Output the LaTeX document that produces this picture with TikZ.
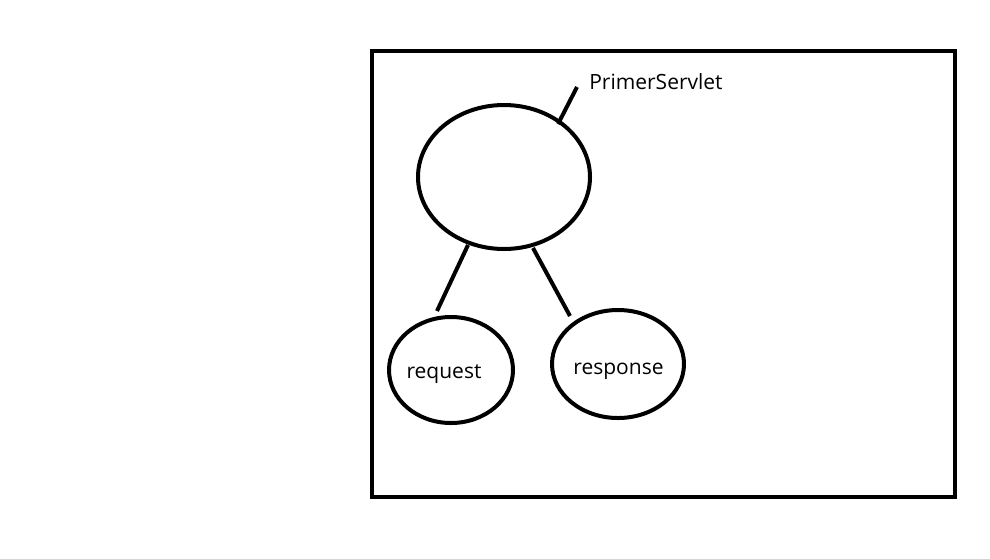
\documentclass[tikz,border=0pt]{standalone}
\usepackage{fontspec}
\setmainfont{Open Sans}
\begin{document}
\begin{tikzpicture}[x=1pt,y=-1pt,
  stroke/.style={draw=black,line width=4pt},
  lbl/.style={font=\fontsize{21}{24}\selectfont,inner sep=0pt,anchor=base}]
\useasboundingbox (0,0) rectangle (990,558);
\node[stroke,rectangle,minimum width=583,minimum height=446,inner sep=0pt] (frame) at (663.5,274) {};
\draw[stroke] (504,177) ellipse [x radius=86,y radius=72];
\node[minimum width=172,minimum height=144,inner sep=0pt] (servlet) at (504,177) {};
\draw[stroke] (451,370) ellipse [x radius=62,y radius=53];
\node[lbl] (req) at (444,378) {request};
\draw[stroke] (618,364) ellipse [x radius=66,y radius=54];
\node[lbl] (resp) at (618.5,374) {response};
\node[lbl] (name) at (656,89) {PrimerServlet};
\coordinate (s1) at (468,245);
\coordinate (r1) at (437,311);
\coordinate (s2) at (533,248);
\coordinate (p1) at (570,316);
\coordinate (s3) at (558,124);
\coordinate (n1) at (577,87);
\draw[stroke] (s1) -- (r1);
\draw[stroke] (s2) -- (p1);
\draw[stroke] (s3) -- (n1);
\end{tikzpicture}
\end{document}
